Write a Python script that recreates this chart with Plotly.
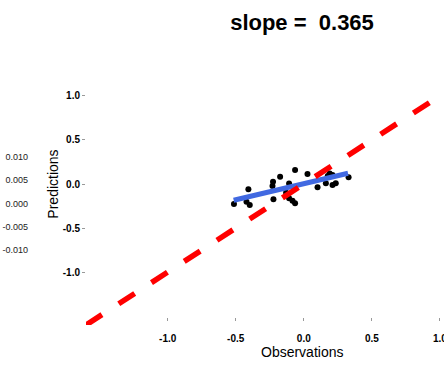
import plotly.graph_objects as go

# ---- data ----
obs = [-0.513, -0.407, -0.421, -0.397, -0.226, -0.230, -0.174, -0.223, -0.108, -0.064,
       0.027, 0.101, 0.162, 0.211, 0.211, 0.235, 0.329, -0.108, -0.083, -0.064,
       0.176, -0.13, 0.19]
pred = [-0.227, -0.060, -0.201, -0.239, 0.026, -0.023, 0.083, -0.174, 0.006, 0.159,
        0.114, -0.038, 0.008, 0.102, -0.011, 0.008, 0.076, -0.163, -0.190, -0.219,
        0.091, -0.10, 0.12]
fit_x = [-0.515, 0.325]
fit_y = [-0.185, 0.122]
ref_x = [-1.6, 1.6]
ref_y = [-1.6, 1.6]
main_ticks = [-1.0, -0.5, 0.0, 0.5, 1.0]
main_ticktext = ["-1.0", "-0.5", "0.0", "0.5", "1.0"]
side_ticks = [0.01, 0.005, 0.0, -0.005, -0.01]
side_ticktext = ["0.010", "0.005", "0.000", "-0.005", "-0.010"]
title_text = "slope = \u00a00.365"
x_title = "Observations"
y_title = "Predictions"

W, H = 444, 368
L_PX, T, B = 86, 43, 43
plot_h = H - T - B
FONT = "Liberation Sans, Arial, sans-serif"

fig = go.Figure()
fig.add_trace(go.Scatter(x=obs, y=pred, mode="markers",
                         marker=dict(color="black", size=6), showlegend=False, hoverinfo="skip"))
fig.add_trace(go.Scatter(x=fit_x, y=fit_y, mode="lines",
                         line=dict(color="#4169E1", width=5), showlegend=False, hoverinfo="skip"))
fig.add_trace(go.Scatter(x=ref_x, y=ref_y, mode="lines",
                         line=dict(color="#FF0000", width=5.5, dash="19px,20px"),
                         showlegend=False, hoverinfo="skip"))
fig.add_trace(go.Scatter(x=[None], y=[None], yaxis="y3", mode="markers",
                         showlegend=False, hoverinfo="skip"))

tickfont = dict(family=FONT, size=10, color="black", weight="bold")

fig.update_layout(
    width=W, height=H,
    margin=dict(l=0, r=0, t=T, b=B, pad=0, autoexpand=False),
    paper_bgcolor="white", plot_bgcolor="white",
    showlegend=False,
    title=dict(text=title_text, xref="container", yref="container",
               x=302 / W, y=1 - 22 / H, xanchor="center", yanchor="middle",
               font=dict(family=FONT, size=22, color="black", weight="bold")),
    xaxis=dict(domain=[L_PX / W, 1], range=[-1.6, 1.03], anchor="free",
               position=(H - B - 317) / plot_h, automargin=False,
               tickvals=main_ticks, ticktext=main_ticktext, tickfont=tickfont,
               ticks="outside", ticklen=3, tickwidth=1, tickcolor="#999",
               ticklabelstandoff=9, ticklabeloverflow="allow",
               showline=False, showgrid=False, zeroline=False),
    yaxis=dict(range=[-1.6, 1.6], anchor="x", automargin=False,
               tickvals=main_ticks, ticktext=main_ticktext, tickfont=tickfont,
               ticks="outside", ticklen=3, tickwidth=1, tickcolor="#999",
               showline=False, showgrid=False, zeroline=False,
               title=dict(text=y_title, standoff=0,
                          font=dict(family=FONT, size=14, color="black"))),
    yaxis3=dict(overlaying="y", anchor="free", position=28 / W, side="left",
                range=[-0.0261, 0.0345], automargin=False,
                tickvals=side_ticks, ticktext=side_ticktext,
                tickfont=dict(family=FONT, size=9, color="#222"),
                ticks="", showline=False, showgrid=False, zeroline=False),
    annotations=[dict(text=x_title, xref="paper", yref="paper",
                      x=302 / W, y=(H - B - 352) / plot_h,
                      xanchor="center", yanchor="middle", showarrow=False,
                      font=dict(family=FONT, size=14, color="black"))],
)

fig.write_html("out.html", config={"displayModeBar": False},
               post_script="document.body.style.margin='0px';document.body.style.overflow='hidden';")
